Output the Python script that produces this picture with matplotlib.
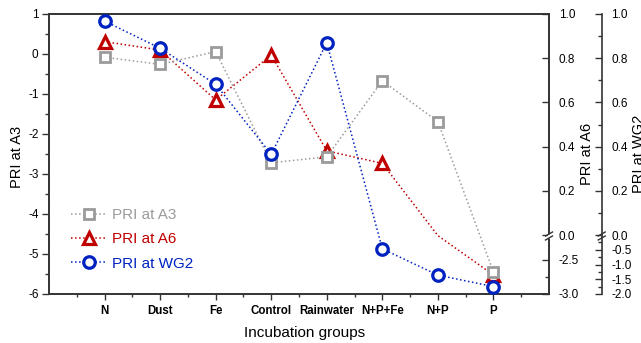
import numpy as np
import matplotlib
matplotlib.use("Agg")
import matplotlib.pyplot as plt
from matplotlib.ticker import FixedLocator, MultipleLocator
from matplotlib.lines import Line2D

plt.rcParams['font.family'] = ['Liberation Sans', 'DejaVu Sans']
plt.rcParams['axes.unicode_minus'] = False

categories = ['N', 'Dust', 'Fe', 'Control', 'Rainwater', 'N+P+Fe', 'N+P', 'P']
pri_a3 = [-0.08, -0.26, 0.06, -2.72, -2.57, -0.67, -1.69, -5.45]
pri_a6 = [0.875, 0.837, 0.611, 0.814, 0.381, 0.324, -0.3, -2.72]
pri_wg2 = [0.968, 0.845, 0.682, 0.365, 0.870, -0.47, -1.36, -1.75]
a6_hidden = [6]  # value inside the axis break: line passes, no marker

C_GREY = '#9b9b9b'
C_RED = '#c00000'
C_BLUE = '#0022c0'

W, H = 641, 343
fig = plt.figure(figsize=(W / 100, H / 100), dpi=100)
L, R, T, B = 49, 549, 14, 294
ax = fig.add_axes([L / W, 1 - B / H, (R - L) / W, (B - T) / H])

# piecewise scales (pixel units from bottom of axes, 280 px total)
def a6_fwd(v):
    v = np.asarray(v, float)
    return np.where(v >= 0, 59 + 221 * v,
                    np.where(v >= -2.2, 54.4 + (v + 2.2) * (4.6 / 2.2), 68 * (v + 3)))

def a6_inv(t):
    t = np.asarray(t, float)
    return np.where(t >= 59, (t - 59) / 221,
                    np.where(t >= 54.4, (t - 54.4) / (4.6 / 2.2) - 2.2, t / 68 - 3))

def wg_fwd(v):
    v = np.asarray(v, float)
    return np.where(v >= 0, 59 + 221 * v, 59 + 29.5 * v)

def wg_inv(t):
    t = np.asarray(t, float)
    return np.where(t >= 59, (t - 59) / 221, (t - 59) / 29.5)

x = np.arange(1, len(categories) + 1)

ax2 = ax.twinx()
ax3 = ax.twinx()
ax2.set_yscale('function', functions=(a6_fwd, a6_inv))
ax3.set_yscale('function', functions=(wg_fwd, wg_inv))

ms = 8.0
mew = 2.0
lw = 1.1
sty_a3 = dict(ls=':', lw=lw, color=C_GREY, marker='s', ms=ms - 0.8, mew=mew,
              mfc='white', mec=C_GREY)
sty_a6 = dict(ls=':', lw=lw, color=C_RED, marker='^', ms=ms + 1, mew=mew + 0.3,
              mfc='white', mec=C_RED)
sty_wg = dict(ls=':', lw=lw, color=C_BLUE, marker='o', ms=ms + 0.3, mew=mew + 0.3,
              mfc='white', mec=C_BLUE)
ax.plot(x, pri_a3, zorder=3, **sty_a3)
keep = [i for i in range(len(x)) if i not in a6_hidden]
ax2.plot(x, pri_a6, markevery=keep, zorder=4, **sty_a6)
ax3.plot(x, pri_wg2, zorder=5, **sty_wg)

ax.set_xlim(0, 9)
ax.set_ylim(-6, 1)
ax2.set_ylim(-3, 1)
ax3.set_ylim(-2, 1)
ax2.set_xlim(0, 9)
ax3.set_xlim(0, 9)

spine_c = '#333333'
for a in (ax, ax2, ax3):
    for s in a.spines.values():
        s.set_color(spine_c)
        s.set_linewidth(1.2)

# x axis
ax.set_xticks(x)
ax.set_xticklabels(categories, fontsize=8.3, fontweight='bold')
ax.xaxis.set_minor_locator(FixedLocator(np.arange(0.5, 9, 1.0)))
ax.tick_params(axis='x', which='major', direction='out', length=4, width=1, color=spine_c, pad=4)
ax.tick_params(axis='x', which='minor', direction='out', length=2.5, width=1, color=spine_c)
ax.set_xlabel('Incubation groups', fontsize=11)
ax.xaxis.set_label_coords(0.512, -0.115)

# left axis
ax.set_yticks(np.arange(-6, 2, 1))
ax.yaxis.set_minor_locator(MultipleLocator(0.5))
ax.tick_params(axis='y', which='major', direction='out', length=5, width=1, color=spine_c,
               labelsize=8.5, pad=2.5)
ax.tick_params(axis='y', which='minor', direction='out', length=3, width=1, color=spine_c)
ax.set_ylabel('PRI at A3', fontsize=10.5)
ax.yaxis.set_label_coords(-0.05, 0.49)

# A6 axis
ax2.yaxis.set_major_locator(FixedLocator([-3.0, -2.5, 0.0, 0.2, 0.4, 0.6, 0.8, 1.0]))
ax2.yaxis.set_minor_locator(FixedLocator([-2.75]))
ax2.set_yticklabels(['-3.0', '-2.5', '0.0', '0.2', '0.4', '0.6', '0.8', '1.0'])
ax2.tick_params(axis='y', which='major', direction='in', length=5, width=1, color=spine_c,
                labelsize=8.5, pad=7)
ax2.tick_params(axis='y', which='minor', direction='in', length=3, width=1, color=spine_c)
ax2.set_ylabel('PRI at A6', fontsize=10.5)
ax2.yaxis.set_label_coords(1.062, 0.5)

# WG2 axis
ax3.spines['right'].set_position(('axes', 1 + 52.7 / 500))
ax3.spines['top'].set_visible(False)
ax3.spines['bottom'].set_visible(False)
ax3.spines['left'].set_visible(False)
ax3.yaxis.set_major_locator(FixedLocator([-2.0, -1.5, -1.0, -0.5, 0.0, 0.2, 0.4, 0.6, 0.8, 1.0]))
ax3.yaxis.set_minor_locator(FixedLocator([-1.75, -1.25, -0.75, -0.25, 0.1, 0.3, 0.5, 0.7, 0.9]))
ax3.set_yticklabels(['-2.0', '-1.5', '-1.0', '-0.5', '0.0', '0.2', '0.4', '0.6', '0.8', '1.0'])
ax3.tick_params(axis='y', which='major', direction='in', length=5, width=1, color=spine_c,
                labelsize=8.5, pad=7)
ax3.tick_params(axis='y', which='minor', direction='in', length=3, width=1, color=spine_c)
ax3.set_ylabel('PRI at WG2', fontsize=10.5)
ax3.yaxis.set_label_coords(1 + 83 / 500, 0.5)
for a in (ax2, ax3):
    a.tick_params(axis='x', which='both', bottom=False, top=False, labelbottom=False)

# break marks on the right spines
yb = 1 - (236 - T) / (B - T)
for xs in (1.0, 1 + 52.7 / 500):
    dx, dy = 7 / 500, 4 / 280
    ax.plot([xs, xs], [yb - 2.0 / 280, yb + 2.0 / 280], color='white', lw=2.5,
            transform=ax.transAxes, clip_on=False, zorder=10, solid_capstyle='butt')
    for off in (-2.0 / 280, 2.0 / 280):
        ax.plot([xs - dx / 2, xs + dx / 2], [yb + off - dy / 2, yb + off + dy / 2],
                color=spine_c, lw=1.0, transform=ax.transAxes, clip_on=False, zorder=11)

# legend with proxy handles
handles = [Line2D([], [], **sty_a3), Line2D([], [], **sty_a6), Line2D([], [], **sty_wg)]
labels = ['PRI at A3', 'PRI at A6', 'PRI at WG2']
leg = ax3.legend(handles, labels, loc='upper left', numpoints=1,
                 bbox_to_anchor=(71 / W, 1 - 208 / H), bbox_transform=fig.transFigure,
                 frameon=False, fontsize=11, handlelength=2.3, handletextpad=0.4,
                 labelspacing=0.68, borderpad=0, borderaxespad=0)
for txt, c in zip(leg.get_texts(), [C_GREY, C_RED, C_BLUE]):
    txt.set_color(c)

ax.set_zorder(3)
ax2.set_zorder(2)
ax3.set_zorder(4)
ax.patch.set_visible(False)
ax2.patch.set_visible(False)
ax3.patch.set_visible(False)

fig.savefig('out.png', dpi=100)
